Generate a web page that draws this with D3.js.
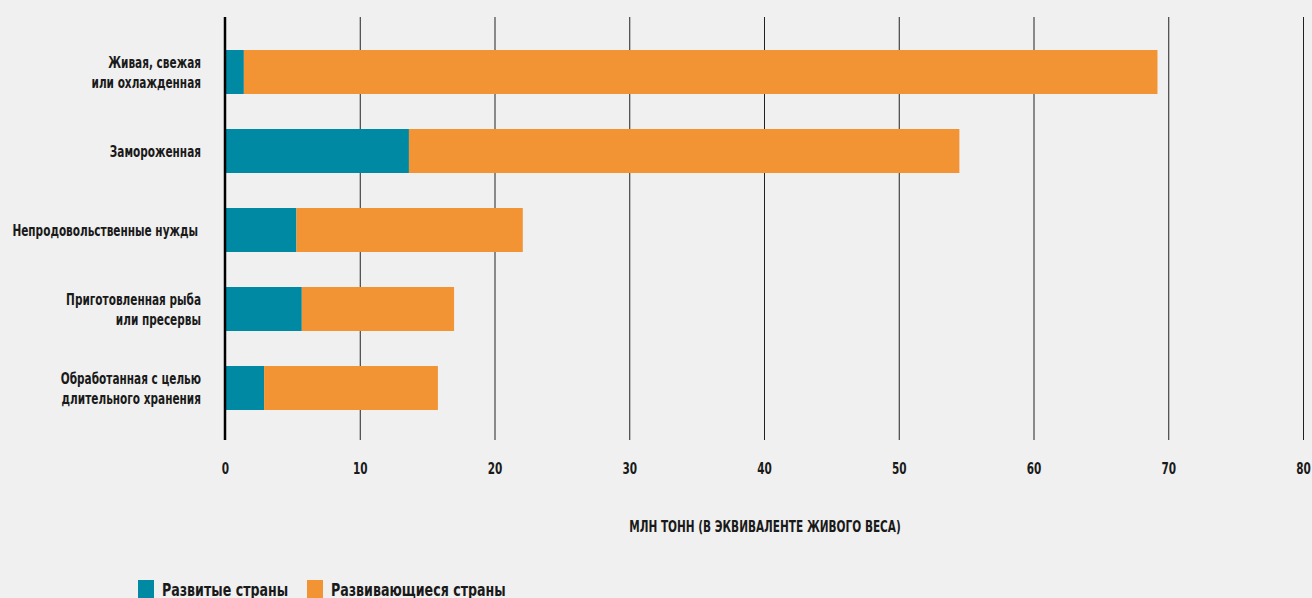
<!DOCTYPE html>
<html>
<head>
<meta charset="utf-8">
<script src="https://cdn.jsdelivr.net/npm/d3@7"></script>
<style>
  html, body { margin: 0; padding: 0; background: #f0f0f0; }
  svg { display: block; }
  text { font-family: "DejaVu Sans Condensed", "Liberation Sans Narrow", "Roboto", sans-serif; font-weight: bold; fill: #1a1a1a; }
</style>
</head>
<body>
<svg id="chart" width="1312" height="598"></svg>
<script>
// Fish utilisation by product form, million tonnes live weight equivalent
const categories = [
  ["Живая, свежая", "или охлажденная"],
  ["Замороженная"],
  ["Непродовольственные нужды"],
  ["Приготовленная рыба", "или пресервы"],
  ["Обработанная с целью", "длительного хранения"]
];
const developed  = [1.4, 13.65, 5.3, 5.7, 2.9];
const developing = [67.8, 40.85, 16.8, 11.3, 12.9];
const seriesNames = ["Развитые страны", "Развивающиеся страны"];
const seriesColors = ["#0089a3", "#f29434"];
const tickValues = [0, 10, 20, 30, 40, 50, 60, 70, 80];
const axisTitle = "МЛН ТОНН (В ЭКВИВАЛЕНТЕ ЖИВОГО ВЕСА)";

const svg = d3.select("#chart");

// narrow every label horizontally to imitate a condensed typeface
const CONDENSE = 0.78;
function condense(sel) {
  sel.each(function () {
    const len = this.getComputedTextLength();
    d3.select(this)
      .attr("textLength", (len * CONDENSE).toFixed(1))
      .attr("lengthAdjust", "spacingAndGlyphs");
  });
}

const x = d3.scaleLinear().domain([0, 80]).range([225, 1303]);
const y = d3.scaleBand()
  .domain(d3.range(categories.length))
  .range([32.5, 427.5])
  .paddingInner(0.443)
  .paddingOuter(0.2215);

const gridTop = 17, axisY = 440;

// vertical grid lines and tick labels
const axis = svg.append("g")
  .attr("transform", `translate(0,${axisY})`)
  .call(d3.axisBottom(x)
    .tickValues(tickValues)
    .tickSize(-(axisY - gridTop))
    .tickPadding(23)
    .tickFormat(d3.format("d")));
axis.select(".domain").remove();
axis.selectAll(".tick line").attr("stroke", "#222").attr("stroke-width", 1);
axis.selectAll(".tick text")
  .style("font-size", "15px")
  .attr("fill", "#1a1a1a")
  .call(condense);

// stacked bars
const rows = categories.map((c, i) => ({ i, dev: developed[i], ing: developing[i] }));
const g = svg.append("g");
g.selectAll("rect.dev").data(rows).join("rect")
  .attr("class", "dev")
  .attr("x", d => x(0))
  .attr("y", d => y(d.i))
  .attr("width", d => x(d.dev) - x(0))
  .attr("height", y.bandwidth())
  .attr("fill", seriesColors[0]);
g.selectAll("rect.ing").data(rows).join("rect")
  .attr("class", "ing")
  .attr("x", d => x(d.dev))
  .attr("y", d => y(d.i))
  .attr("width", d => x(d.dev + d.ing) - x(d.dev))
  .attr("height", y.bandwidth())
  .attr("fill", seriesColors[1]);

// zero baseline
svg.append("line")
  .attr("x1", x(0)).attr("x2", x(0))
  .attr("y1", gridTop).attr("y2", axisY)
  .attr("stroke", "#000").attr("stroke-width", 2.5);

// category labels, one text element per line
const labels = svg.append("g");
const lineHeight = 20;
categories.forEach((lines, i) => {
  const cy = y(i) + y.bandwidth() / 2;
  lines.forEach((ln, k) => {
    labels.append("text")
      .attr("text-anchor", "end")
      .attr("x", i === 2 ? 198 : 201)
      .attr("y", cy + (k - (lines.length - 1) / 2) * lineHeight + 5.5)
      .style("font-size", "15px")
      .text(ln)
      .call(condense);
  });
});

// axis title
svg.append("text")
  .attr("x", 765)
  .attr("y", 532)
  .attr("text-anchor", "middle")
  .style("font-size", "15px")
  .text(axisTitle)
  .call(condense);

// legend
const legend = svg.append("g");
const legendX = [138, 307];
seriesNames.forEach((name, i) => {
  legend.append("rect")
    .attr("x", legendX[i]).attr("y", 580)
    .attr("width", 16).attr("height", 18)
    .attr("fill", seriesColors[i]);
  legend.append("text")
    .attr("x", legendX[i] + 24)
    .attr("y", 596)
    .style("font-size", "18px")
    .text(name)
    .call(condense);
});
</script>
</body>
</html>
